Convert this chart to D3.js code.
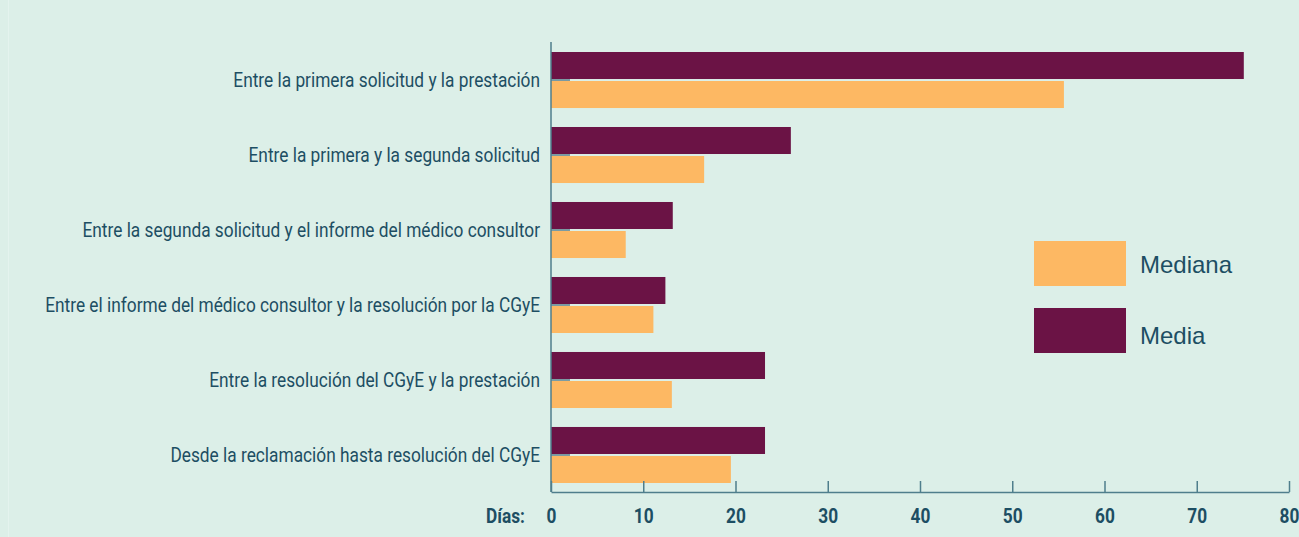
<!DOCTYPE html>
<meta charset="utf-8">
<style>
body{ margin:0; background:#dcefe8; }
svg{ display:block; background:#dcefe8; }
.cat{ font-family:"Roboto",sans-serif; font-size:20px; fill:#1d4e63; }
.tick text{ font-family:"Roboto",sans-serif; font-weight:bold; font-size:20px; fill:#1d4e63; }
.leg{ font-family:"Liberation Sans","Roboto",sans-serif; font-size:24px; fill:#1d4e63; }
</style>
<div id="chart"></div>
<script src="https://cdn.jsdelivr.net/npm/d3@7"></script>
<script>
var categories = [
  'Entre la primera solicitud y la prestación',
  'Entre la primera y la segunda solicitud',
  'Entre la segunda solicitud y el informe del médico consultor',
  'Entre el informe del médico consultor y la resolución por la CGyE',
  'Entre la resolución del CGyE y la prestación',
  'Desde la reclamación hasta resolución del CGyE'
]
var media   = [75.1, 26.0, 13.2, 12.4, 23.2, 23.2]
var mediana = [55.6, 16.6, 8.1, 11.1, 13.1, 19.5]
var ticks = [0, 10, 20, 30, 40, 50, 60, 70, 80]
var series = ['Mediana', 'Media']
var colors = {Media: '#6b1345', Mediana: '#fdb863'}

var W = 1299, H = 537
var x0 = 551, x1 = 1289, yTop = 42, yBase = 492
var squeeze = 0.865

var svg = d3.select('#chart').append('svg').attr('width', W).attr('height', H)

svg.append('line')
    .attr('x1', 8.5).attr('x2', 8.5).attr('y1', 0).attr('y2', H)
    .style('stroke', '#e4f3ee').style('stroke-width', 1)

var x = d3.scaleLinear().domain([0, 80]).range([x0, x1])
var y = d3.scaleBand().domain(categories).range([52, 483]).paddingInner(0.253).paddingOuter(0)

// bars
var grp = svg.append('g').selectAll('g.grp').data(categories).enter().append('g')
    .attr('transform', function(d){ return 'translate(0,' + y(d) + ')' })

var bh = y.bandwidth()
grp.append('rect')
    .attr('x', x(0)).attr('y', 0)
    .attr('width', function(d, i){ return x(media[i]) - x(0) })
    .attr('height', bh/2 - 1)
    .style('fill', colors.Media)
grp.append('rect')
    .attr('x', x(0)).attr('y', bh/2 + 1)
    .attr('width', function(d, i){ return x(mediana[i]) - x(0) })
    .attr('height', bh/2 - 1)
    .style('fill', colors.Mediana)
grp.append('line')
    .attr('x1', x(0)).attr('x2', x(0) + 19)
    .attr('y1', bh/2).attr('y2', bh/2)
    .style('stroke', '#5b7f8c').style('stroke-width', 1.5)
grp.append('text').attr('class', 'cat')
    .attr('transform', 'translate(540,' + (bh/2) + ') scale(' + squeeze + ',1)')
    .attr('dy', '0.35em')
    .attr('text-anchor', 'end')
    .text(function(d){ return d })

// axes
svg.append('line')
    .attr('x1', x0).attr('x2', x0).attr('y1', yTop).attr('y2', yBase)
    .style('stroke', '#4f7e8c').style('stroke-width', 1.5)

var ax = svg.append('g').attr('transform', 'translate(0,' + yBase + ')')
    .call(d3.axisBottom(x).tickValues(ticks).tickSize(-11).tickPadding(17).tickSizeOuter(0))
ax.select('.domain').style('stroke', '#4f7e8c').style('stroke-width', 1.5)
ax.selectAll('.tick line').style('stroke', '#4f7e8c').style('stroke-width', 1.5)
ax.selectAll('.tick text').attr('transform', 'scale(' + squeeze + ',1)')

svg.append('text')
    .attr('transform', 'translate(525,' + (yBase + 17) + ') scale(' + squeeze + ',1)')
    .attr('dy', '0.71em')
    .attr('text-anchor', 'end')
    .style('font-family', 'Roboto,sans-serif').style('font-weight', 'bold')
    .style('font-size', '20px').style('fill', '#1d4e63')
    .text('Días:')

// legend
var leg = svg.append('g').selectAll('g').data(series).enter().append('g')
    .attr('transform', function(d, i){ return 'translate(1034,' + (241 + i*67) + ')' })
leg.append('rect').attr('width', 92).attr('height', 45)
    .style('fill', function(d){ return colors[d] })
leg.append('text').attr('class', 'leg')
    .attr('x', 106).attr('y', function(d, i){ return i ? 28 : 24 }).attr('dy', '0.35em')
    .text(function(d){ return d })
</script>
